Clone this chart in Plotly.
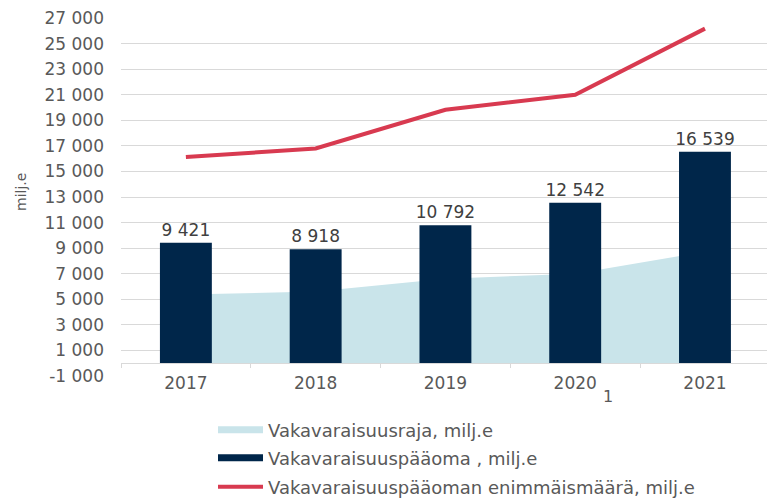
import plotly.graph_objects as go

# ---- data ----
years = ["2017", "2018", "2019", "2020", "2021"]
limit_values = [5370, 5600, 6610, 7000, 8720]            # Vakavaraisuusraja, milj.e
capital_values = [9421, 8918, 10792, 12542, 16539]       # Vakavaraisuuspääoma, milj.e
max_values = [16120, 16800, 19820, 20990, 26170]         # Vakavaraisuuspääoman enimmäismäärä, milj.e
y_tick_values = [-1000, 1000, 3000, 5000, 7000, 9000, 11000, 13000,
                 15000, 17000, 19000, 21000, 23000, 25000, 27000]
y_tick_labels = ["-1 000", "1 000", "3 000", "5 000", "7 000", "9 000", "11 000", "13 000",
                 "15 000", "17 000", "19 000", "21 000", "23 000", "25 000", "27 000"]
series_names = ["Vakavaraisuusraja, milj.e",
                "Vakavaraisuuspääoma , milj.e",
                "Vakavaraisuuspääoman enimmäismäärä, milj.e"]
y_title = "milj.e"
footnote_year = "2020"
footnote_text = "1"

bar_labels = [f"{v:,}".replace(",", " ") for v in capital_values]

FONT = "DejaVu Sans"
GREY = "#595959"
GRID = "#d9d9d9"
C_AREA = "#c9e4ea"
C_BAR = "#00264a"
C_LINE = "#d83a50"

W, H = 767, 498
ML, MR, MT, MB = 121, 0, 18, 122
x_range = [-0.5, 4.478]
y_range = [-1000, 27000]

fig = go.Figure()

# area (main subplot, drawn below bars)
fig.add_trace(go.Scatter(x=years, y=limit_values, mode="none", fill="tozeroy",
                         fillcolor=C_AREA, xaxis="x", yaxis="y", showlegend=False,
                         hoverinfo="skip"))
# bars and line (overlay subplot)
fig.add_trace(go.Bar(x=years, y=capital_values, marker=dict(color=C_BAR, line=dict(width=0)),
                     width=0.4, text=bar_labels, textposition="outside",
                     constraintext="none",
                     textfont=dict(family=FONT, size=17, color="#404040"),
                     cliponaxis=False, xaxis="x2", yaxis="y2", showlegend=False))
fig.add_trace(go.Scatter(x=years, y=max_values, mode="lines",
                         line=dict(color=C_LINE, width=4), xaxis="x2", yaxis="y2",
                         showlegend=False))

# legend entries
legend_styles = [(C_AREA, 7, "legend"), (C_BAR, 7, "legend2"), (C_LINE, 4, "legend3")]
for name, (col, w, lg) in zip(series_names, legend_styles):
    fig.add_trace(go.Scatter(x=[None], y=[None], mode="lines", name=name,
                             line=dict(color=col, width=w), legend=lg,
                             xaxis="x", yaxis="y"))

plot_w = W - ML - MR
plot_h = H - MT - MB

def px_x(px):
    return (px - ML) / plot_w

def px_y(py):
    return (H - MB - py) / plot_h

legend_common = dict(xref="container", yref="container",
                     xanchor="left", yanchor="middle", bgcolor="rgba(0,0,0,0)",
                     font=dict(family=FONT, size=18, color=GREY), itemwidth=45,
                     borderwidth=0)

fig.update_layout(
    width=W, height=H,
    margin=dict(l=ML, r=MR, t=MT, b=MB, autoexpand=False),
    paper_bgcolor="white", plot_bgcolor="white",
    font=dict(family=FONT, color=GREY),
    xaxis=dict(type="category", categoryorder="array", categoryarray=years,
               range=x_range, showgrid=False, zeroline=False, showline=False,
               ticks="", showticklabels=False, automargin=False),
    xaxis2=dict(type="category", categoryorder="array", categoryarray=years,
                range=x_range, overlaying="x", anchor="free",
                position=(0 - y_range[0]) / (y_range[1] - y_range[0]),
                showgrid=False, zeroline=False, showline=True, linecolor=GRID,
                linewidth=1, ticks="outside", tickson="boundaries", ticklen=4,
                tickcolor=GRID, showticklabels=True, automargin=False,
                ticklabelstandoff=4,
                tickfont=dict(family=FONT, size=17, color=GREY)),
    yaxis=dict(range=y_range, tickvals=y_tick_values, ticktext=y_tick_labels,
               showgrid=True, gridcolor=GRID, gridwidth=1, zeroline=False,
               showline=False, ticks="", ticklabelstandoff=16, automargin=False,
               tickfont=dict(family=FONT, size=17, color=GREY)),
    yaxis2=dict(range=y_range, overlaying="y", showgrid=False, zeroline=False,
                showticklabels=False, showline=False, ticks="", automargin=False),
    legend=dict(x=213 / W, y=1 - 430 / H, **legend_common),
    legend2=dict(x=213 / W, y=1 - 458 / H, **legend_common),
    legend3=dict(x=213 / W, y=1 - 487 / H, **legend_common),
    annotations=[
        dict(text=y_title, xref="paper", yref="paper", x=px_x(21), y=px_y(192),
             xanchor="center", yanchor="middle",
             textangle=-90, showarrow=False,
             font=dict(family=FONT, size=14, color=GREY)),
        dict(text=footnote_text, xref="x", x=years.index(footnote_year), xshift=33,
             xanchor="center", yanchor="middle",
             yref="paper", y=px_y(396), showarrow=False,
             font=dict(family=FONT, size=16, color=GREY)),
    ],
)

fig.write_html("out.html",
               config={"displayModeBar": False},
               post_script="document.body.style.margin='0';document.body.style.padding='0';")
